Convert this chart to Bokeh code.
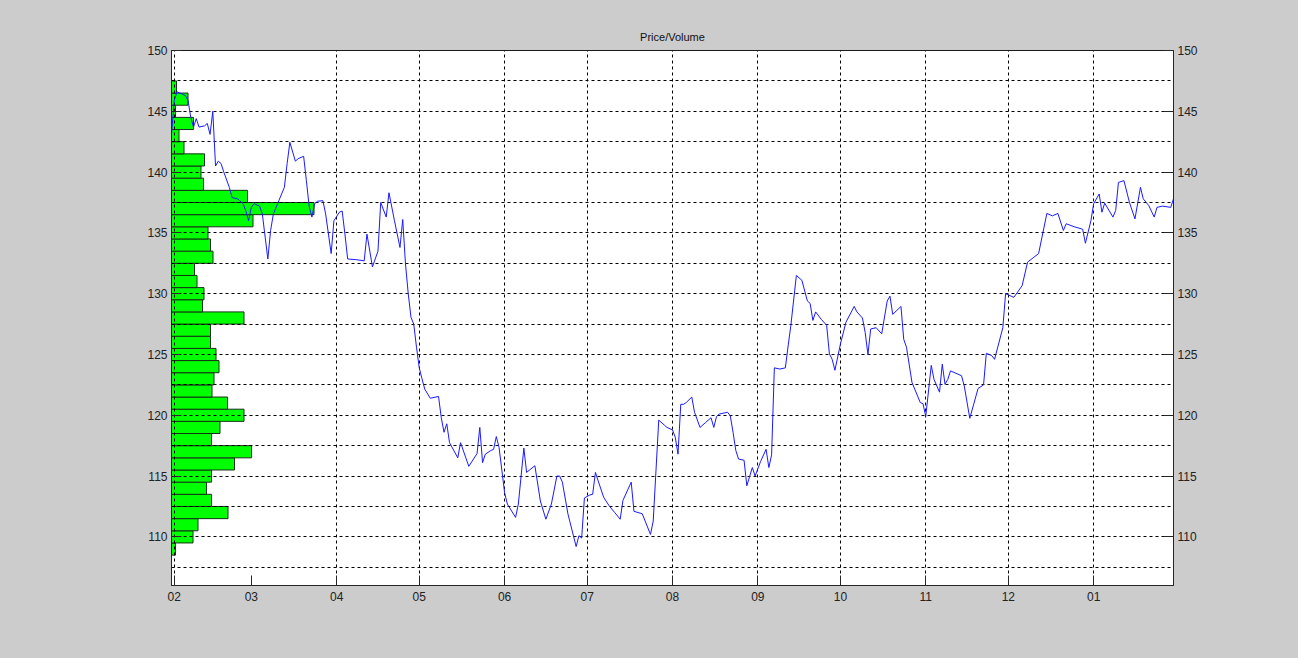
import pandas as pd
from bokeh.plotting import figure
from bokeh.models import (Range1d, LinearAxis, FixedTicker, MonthsTicker,
                          DatetimeTickFormatter)
from bokeh.embed import file_html
from bokeh.resources import INLINE

# ---- data -------------------------------------------------------------
start_date = "2010-02-01"
# trading day offsets (days since start_date)
day = [-1, 0, 1, 2, 4, 5, 6, 7, 8, 9,
       11, 12, 13, 14, 15, 16, 17, 18, 20, 21,
       23, 25, 26, 27, 28, 29, 31, 32, 34, 35,
       36, 38, 40, 41, 42, 44, 45, 47, 48, 49,
       50, 51, 52, 54, 55, 57, 58, 60, 61, 62,
       63, 66, 69, 70, 72, 74, 75, 77, 78, 80,
       82, 83, 84, 85, 86, 87, 88, 89, 90, 91,
       93, 96, 97, 98, 99, 100, 103, 104, 107, 110,
       111, 112, 113, 115, 116, 117, 118, 120, 121, 124,
       125, 127, 128, 131, 133, 135, 137, 139, 140, 141,
       143, 146, 147, 148, 149, 151, 152, 153, 154, 156,
       158, 160, 162, 163, 166, 167, 170, 173, 174, 176,
       178, 179, 181, 182, 183, 184, 185, 186, 188, 189,
       191, 193, 195, 196, 197, 198, 201, 202, 203, 204,
       205, 207, 208, 210, 211, 213, 215, 216, 217, 218,
       220, 222, 223, 224, 226, 228, 230, 231, 232, 233,
       235, 237, 238, 239, 240, 242, 244, 247, 248, 250,
       251, 252, 253, 255, 257, 259, 260, 261, 264, 265,
       266, 268, 271, 272, 273, 275, 276, 278, 279, 280,
       281, 282, 286, 287, 289, 292, 294, 295, 297, 298,
       301, 302, 303, 305, 308, 310, 312, 314, 317, 319,
       321, 323, 324, 327, 330, 331, 333, 334, 336, 337,
       338, 341, 342, 343, 345, 347, 349, 351, 352, 354,
       356, 357, 359, 362, 363]

price = [143.1, 145.9, 146.6, 146.5, 146.3, 145.9, 144.5, 143.7, 144.4, 143.7,
         143.8, 144.0, 143.1, 145.0, 140.5, 140.9, 140.7, 140.0, 138.75, 137.9,
         137.8, 137.4, 136.8, 136.0, 137.1, 137.4, 137.2, 136.55, 132.85, 135.2,
         136.55, 137.65, 138.75, 140.7, 142.45, 140.9, 141.1, 141.3, 139.3, 137.2,
         136.3, 137.4, 137.6, 137.65, 136.55, 133.3, 136.0, 136.7, 136.8, 134.9,
         132.85, 132.8, 132.7, 134.9, 132.2, 133.5, 137.5, 136.3, 138.3, 136.0,
         133.8, 136.1, 132.45, 130.0, 128.05, 127.5, 125.6, 123.9, 123.0, 122.15,
         121.4, 121.55, 119.8, 118.6, 119.3, 117.75, 116.5, 117.75, 115.8, 116.85,
         119.0, 116.1, 116.8, 117.1, 117.2, 118.25, 117.35, 113.65, 112.7, 111.6,
         112.7, 117.3, 115.3, 115.85, 112.95, 111.45, 112.7, 115.0, 115.0, 114.5,
         111.9, 109.2, 110.1, 109.9, 113.2, 113.45, 113.5, 115.3, 114.6, 113.25,
         112.55, 112.0, 111.45, 113.0, 114.5, 112.1, 111.9, 110.2, 111.3, 119.6,
         119.2, 119.0, 118.8, 118.2, 116.8, 120.9, 120.9, 121.05, 121.5, 120.25,
         119.0, 119.4, 119.8, 119.0, 119.9, 120.1, 120.25, 119.95, 118.6, 117.1,
         116.4, 116.3, 114.2, 115.7, 115.0, 116.2, 117.2, 115.7, 116.75, 123.9,
         123.8, 123.9, 125.7, 127.4, 131.5, 131.1, 129.4, 129.2, 127.8, 128.5,
         127.9, 127.4, 125.05, 124.6, 123.7, 125.85, 127.65, 128.95, 128.5, 128.0,
         126.8, 125.0, 127.1, 127.2, 126.7, 129.4, 129.8, 128.3, 128.95, 126.25,
         125.6, 122.7, 121.05, 120.95, 119.9, 124.1, 122.95, 121.9, 124.2, 122.55,
         122.95, 123.65, 123.25, 122.4, 119.75, 122.2, 122.5, 125.1, 124.9, 124.6,
         127.2, 130.0, 129.9, 129.7, 130.65, 132.6, 132.95, 133.3, 136.6, 136.4,
         136.6, 135.2, 135.75, 135.5, 135.3, 134.15, 136.0, 137.4, 138.2, 136.7,
         137.45, 136.3, 136.85, 139.15, 139.3, 137.5, 136.15, 138.75, 137.8, 137.25,
         136.3, 137.1, 137.2, 137.1, 137.8]

# volume-at-price profile (price bins of width 1, volume in arbitrary units)
vol_bins = list(range(109, 148))
volumes = [0.4, 2.15, 2.65, 5.65, 4.0, 3.5, 4.0, 6.3, 8.0, 4.0,
           4.85, 7.25, 5.6, 4.05, 4.25, 4.75, 4.45, 3.9, 3.9, 7.25,
           3.1, 3.25, 2.55, 2.3, 4.15, 3.9, 3.65, 8.15, 14.25, 7.6,
           3.2, 2.95, 3.3, 1.25, 0.75, 2.2, 0.4, 1.65, 0.5]

y_ticks = [110, 115, 120, 125, 130, 135, 140, 145, 150]

# ---- figure -----------------------------------------------------------
dates = pd.Timestamp(start_date) + pd.to_timedelta(day, unit="D")

FONT = "Liberation Sans"
GRAY = "#cccccc"

p = figure(width=1296, height=656, x_axis_type="datetime",
           output_backend="svg", toolbar_location=None,
           x_range=Range1d(dates[0], dates[-1]), y_range=Range1d(106, 150),
           min_border_left=171, min_border_right=123,
           min_border_top=50, min_border_bottom=71)
p.background_fill_color = "white"
p.border_fill_color = GRAY
p.outline_line_color = "#1a1a1a"
p.outline_line_width = 1

p.title.text = "Price/Volume"
p.title.align = "center"
p.title.text_font = FONT
p.title.text_font_size = "11px"
p.title.text_font_style = "normal"
p.title.text_color = "#111111"
p.title.standoff = 15

p.extra_x_ranges = {"vol": Range1d(0, 100.2)}

bars = p.hbar(y=vol_bins, left=0, right=volumes, height=1, x_range_name="vol",
              fill_color="#00ff00", line_color="#143314", line_width=1)
bars.level = "image"

p.line(dates, price, line_color="#1a1aff", line_width=1)

# axes
p.xaxis.ticker = MonthsTicker(months=list(range(1, 13)))
p.xaxis.formatter = DatetimeTickFormatter(months="%m", days="%m",
                                          strip_leading_zeros=False)
p.yaxis.ticker = FixedTicker(ticks=y_ticks)
right_axis = LinearAxis(ticker=FixedTicker(ticks=y_ticks))
p.add_layout(right_axis, "right")

for ax in [p.xaxis[0], p.yaxis[0], right_axis]:
    ax.axis_line_color = "#262626"
    ax.major_tick_line_color = "#262626"
    ax.major_tick_in = 10
    ax.major_tick_out = 0
    ax.minor_tick_in = 0
    ax.minor_tick_out = 0
    ax.major_label_text_font = FONT
    ax.major_label_text_font_size = "12px"
    ax.major_label_text_color = "#222222"
    ax.major_label_standoff = 4
p.xaxis[0].major_label_standoff = 6

# grids
p.xgrid.ticker = MonthsTicker(months=[1, 3, 4, 5, 6, 7, 8, 9, 10, 11, 12])
p.ygrid.ticker = FixedTicker(ticks=[107.5 + 2.5 * i for i in range(17)])
for g in [p.xgrid[0], p.ygrid[0]]:
    g.grid_line_color = "black"
    g.grid_line_dash = "3 3"
    g.grid_line_width = 1

template = """{% block preamble %}<style>html, body { background-color: #cccccc; }</style>{% endblock %}"""

open("out.html", "w").write(file_html(p, INLINE, template=template))
